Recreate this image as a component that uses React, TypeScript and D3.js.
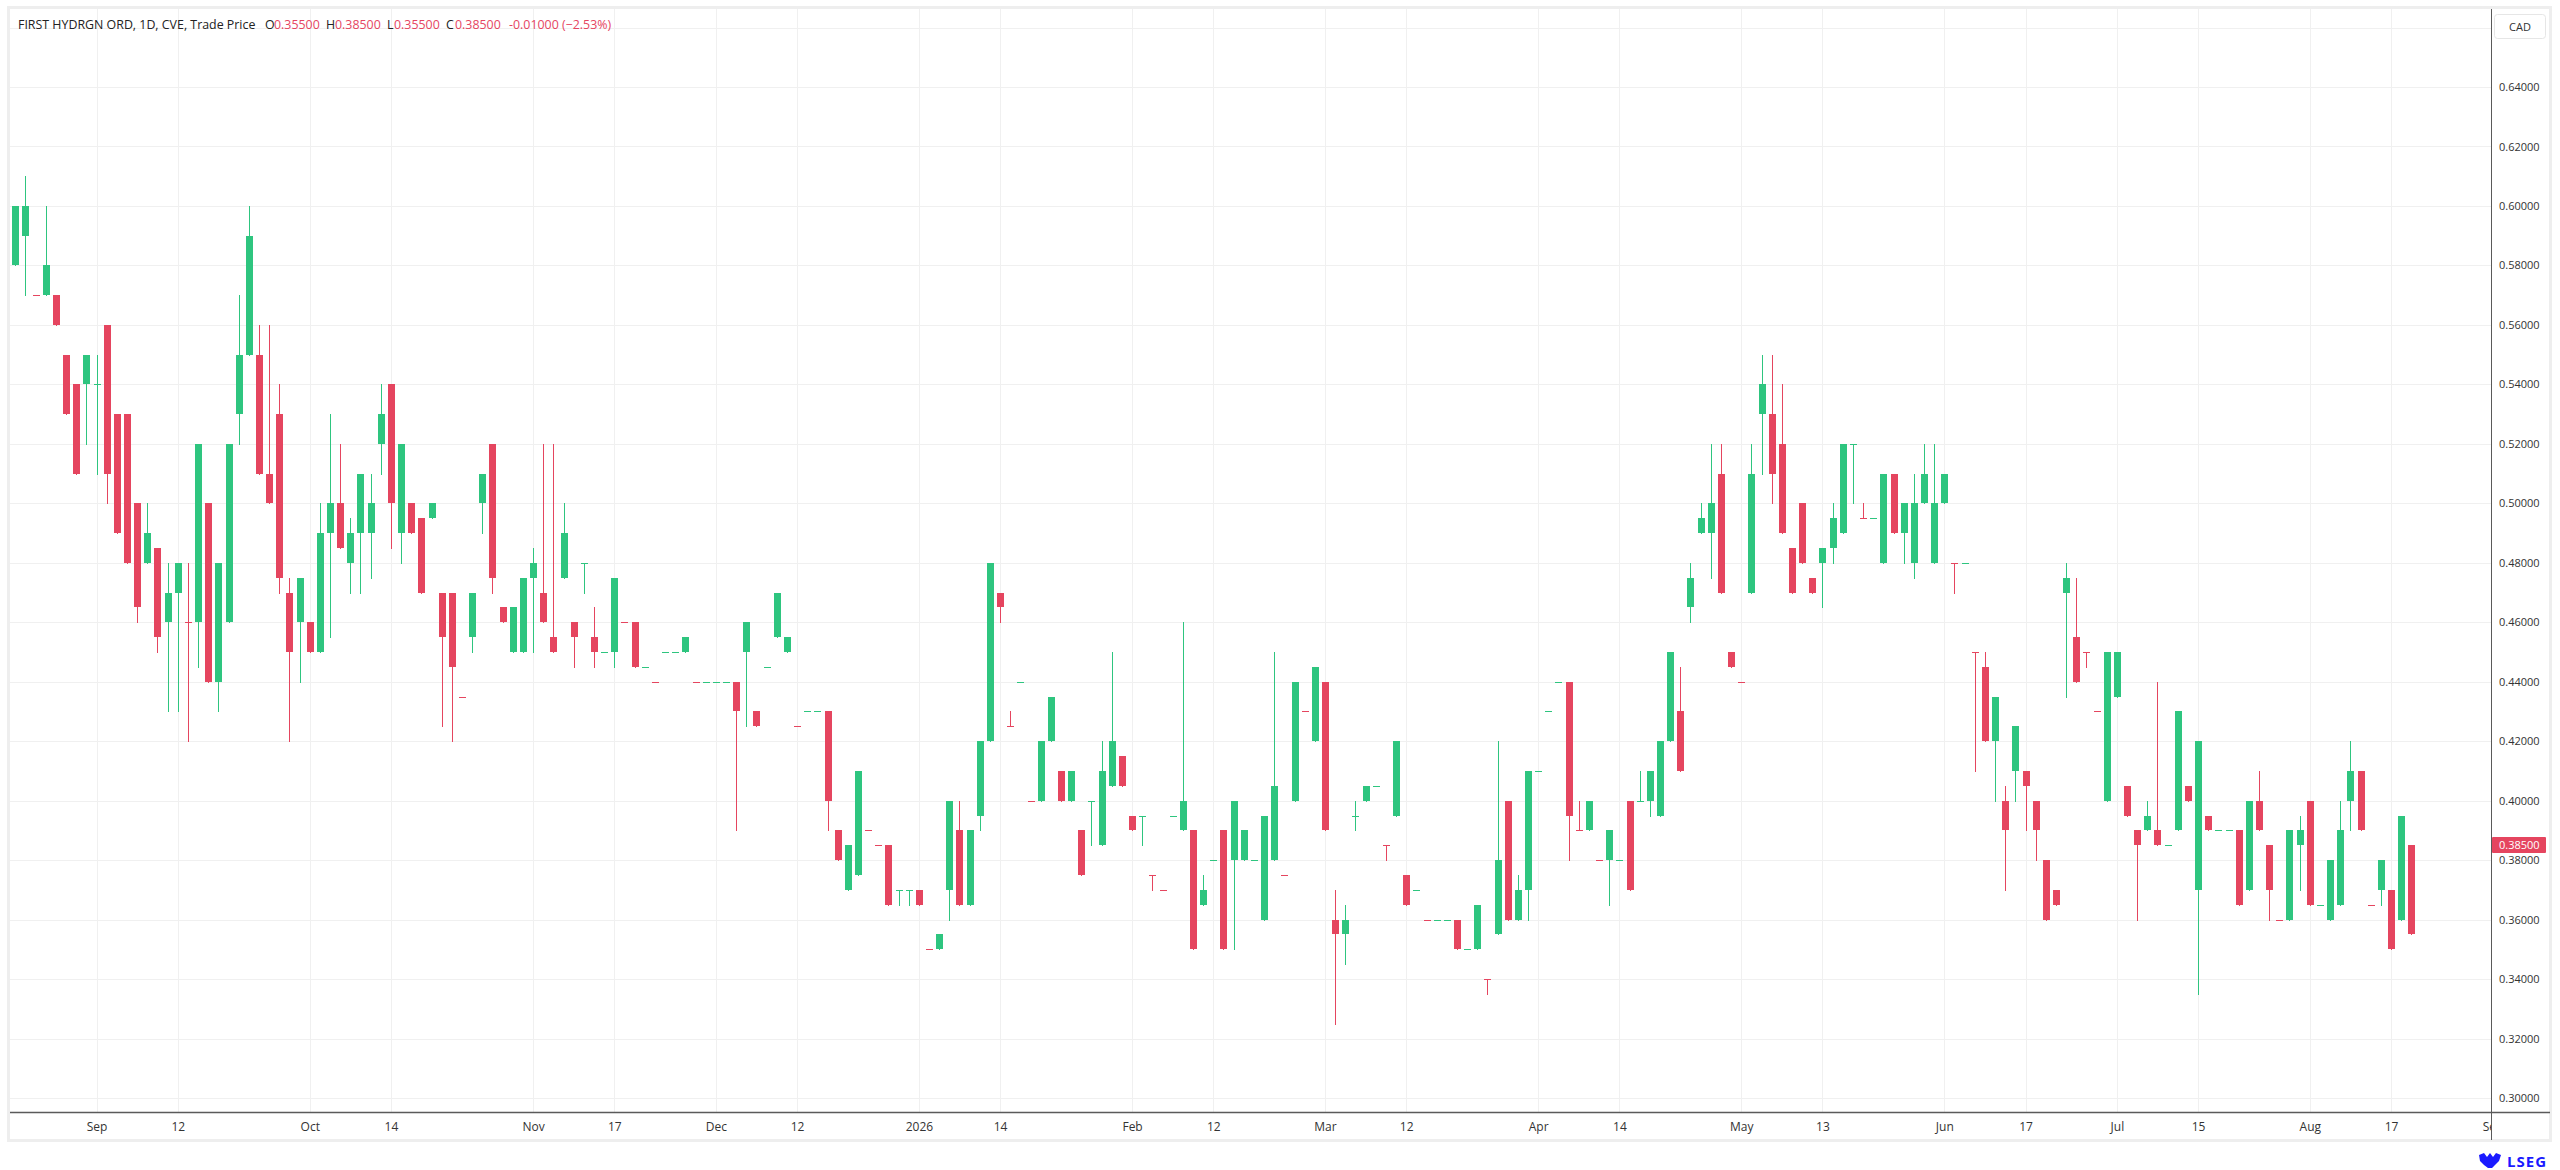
import * as d3 from "d3";
import { useEffect, useRef } from "react";

// daily bars, [open, high, low, close]
const bars: number[][] = [
  [0.58, 0.6, 0.58, 0.6], [0.59, 0.61, 0.57, 0.6], [0.57, 0.57, 0.57, 0.57], [0.57, 0.6, 0.57, 0.58], [0.57, 0.57, 0.56, 0.56],
  [0.55, 0.55, 0.53, 0.53], [0.54, 0.54, 0.51, 0.51], [0.54, 0.55, 0.52, 0.55], [0.54, 0.55, 0.51, 0.54], [0.56, 0.56, 0.5, 0.51],
  [0.53, 0.53, 0.49, 0.49], [0.53, 0.53, 0.48, 0.48], [0.5, 0.5, 0.46, 0.465], [0.48, 0.5, 0.48, 0.49], [0.485, 0.485, 0.45, 0.455],
  [0.46, 0.48, 0.43, 0.47], [0.47, 0.48, 0.43, 0.48], [0.46, 0.48, 0.42, 0.46], [0.46, 0.52, 0.445, 0.52], [0.5, 0.5, 0.44, 0.44],
  [0.44, 0.48, 0.43, 0.48], [0.46, 0.52, 0.46, 0.52], [0.53, 0.57, 0.52, 0.55], [0.55, 0.6, 0.55, 0.59], [0.55, 0.56, 0.51, 0.51],
  [0.51, 0.56, 0.5, 0.5], [0.53, 0.54, 0.47, 0.475], [0.47, 0.475, 0.42, 0.45], [0.46, 0.475, 0.44, 0.475], [0.46, 0.46, 0.45, 0.45],
  [0.45, 0.5, 0.45, 0.49], [0.49, 0.53, 0.455, 0.5], [0.5, 0.52, 0.485, 0.485], [0.48, 0.495, 0.47, 0.49], [0.49, 0.51, 0.47, 0.51],
  [0.49, 0.51, 0.475, 0.5], [0.52, 0.54, 0.51, 0.53], [0.54, 0.54, 0.485, 0.5], [0.49, 0.52, 0.48, 0.52], [0.5, 0.5, 0.49, 0.49],
  [0.495, 0.495, 0.47, 0.47], [0.495, 0.5, 0.495, 0.5], [0.47, 0.47, 0.425, 0.455], [0.47, 0.47, 0.42, 0.445], [0.435, 0.435, 0.435, 0.435],
  [0.455, 0.47, 0.45, 0.47], [0.5, 0.51, 0.49, 0.51], [0.52, 0.52, 0.47, 0.475], [0.465, 0.465, 0.46, 0.46], [0.45, 0.465, 0.45, 0.465],
  [0.45, 0.475, 0.45, 0.475], [0.475, 0.485, 0.45, 0.48], [0.47, 0.52, 0.46, 0.46], [0.455, 0.52, 0.45, 0.45], [0.475, 0.5, 0.475, 0.49],
  [0.46, 0.46, 0.445, 0.455], [0.48, 0.48, 0.47, 0.48], [0.455, 0.465, 0.445, 0.45], [0.45, 0.45, 0.45, 0.45], [0.45, 0.475, 0.445, 0.475],
  [0.46, 0.46, 0.46, 0.46], [0.46, 0.46, 0.445, 0.445], [0.445, 0.445, 0.445, 0.445], [0.44, 0.44, 0.44, 0.44], [0.45, 0.45, 0.45, 0.45],
  [0.45, 0.45, 0.45, 0.45], [0.45, 0.455, 0.45, 0.455], [0.44, 0.44, 0.44, 0.44], [0.44, 0.44, 0.44, 0.44], [0.44, 0.44, 0.44, 0.44],
  [0.44, 0.44, 0.44, 0.44], [0.44, 0.44, 0.39, 0.43], [0.45, 0.46, 0.425, 0.46], [0.43, 0.43, 0.425, 0.425], [0.445, 0.445, 0.445, 0.445],
  [0.455, 0.47, 0.455, 0.47], [0.45, 0.455, 0.45, 0.455], [0.425, 0.425, 0.425, 0.425], [0.43, 0.43, 0.43, 0.43], [0.43, 0.43, 0.43, 0.43],
  [0.43, 0.43, 0.39, 0.4], [0.39, 0.39, 0.38, 0.38], [0.37, 0.385, 0.37, 0.385], [0.375, 0.41, 0.375, 0.41], [0.39, 0.39, 0.39, 0.39],
  [0.385, 0.385, 0.385, 0.385], [0.385, 0.385, 0.365, 0.365], [0.37, 0.37, 0.365, 0.37], [0.37, 0.37, 0.365, 0.37], [0.37, 0.37, 0.365, 0.365],
  [0.35, 0.35, 0.35, 0.35], [0.35, 0.355, 0.35, 0.355], [0.37, 0.4, 0.36, 0.4], [0.39, 0.4, 0.365, 0.365], [0.365, 0.39, 0.365, 0.39],
  [0.395, 0.42, 0.39, 0.42], [0.42, 0.48, 0.42, 0.48], [0.47, 0.47, 0.46, 0.465], [0.425, 0.43, 0.425, 0.425], [0.44, 0.44, 0.44, 0.44],
  [0.4, 0.4, 0.4, 0.4], [0.4, 0.42, 0.4, 0.42], [0.42, 0.435, 0.42, 0.435], [0.41, 0.41, 0.4, 0.4], [0.4, 0.41, 0.4, 0.41],
  [0.39, 0.39, 0.375, 0.375], [0.4, 0.4, 0.385, 0.4], [0.385, 0.42, 0.385, 0.41], [0.405, 0.45, 0.405, 0.42], [0.415, 0.415, 0.405, 0.405],
  [0.395, 0.395, 0.39, 0.39], [0.395, 0.395, 0.385, 0.395], [0.375, 0.375, 0.37, 0.375], [0.37, 0.37, 0.37, 0.37], [0.395, 0.395, 0.395, 0.395],
  [0.39, 0.46, 0.39, 0.4], [0.39, 0.39, 0.35, 0.35], [0.365, 0.375, 0.365, 0.37], [0.38, 0.38, 0.38, 0.38], [0.39, 0.39, 0.35, 0.35],
  [0.38, 0.4, 0.35, 0.4], [0.38, 0.39, 0.38, 0.39], [0.38, 0.38, 0.38, 0.38], [0.36, 0.395, 0.36, 0.395], [0.38, 0.45, 0.38, 0.405],
  [0.375, 0.375, 0.375, 0.375], [0.4, 0.44, 0.4, 0.44], [0.43, 0.43, 0.43, 0.43], [0.42, 0.445, 0.42, 0.445], [0.44, 0.44, 0.39, 0.39],
  [0.36, 0.37, 0.325, 0.355], [0.355, 0.365, 0.345, 0.36], [0.395, 0.4, 0.39, 0.395], [0.4, 0.405, 0.4, 0.405], [0.405, 0.405, 0.405, 0.405],
  [0.385, 0.385, 0.38, 0.385], [0.395, 0.42, 0.395, 0.42], [0.375, 0.375, 0.365, 0.365], [0.37, 0.37, 0.37, 0.37], [0.36, 0.36, 0.36, 0.36],
  [0.36, 0.36, 0.36, 0.36], [0.36, 0.36, 0.36, 0.36], [0.36, 0.36, 0.35, 0.35], [0.35, 0.35, 0.35, 0.35], [0.35, 0.365, 0.35, 0.365],
  [0.34, 0.34, 0.335, 0.34], [0.355, 0.42, 0.355, 0.38], [0.4, 0.4, 0.36, 0.36], [0.36, 0.375, 0.36, 0.37], [0.37, 0.41, 0.36, 0.41],
  [0.41, 0.41, 0.41, 0.41], [0.43, 0.43, 0.43, 0.43], [0.44, 0.44, 0.44, 0.44], [0.44, 0.44, 0.38, 0.395], [0.39, 0.4, 0.39, 0.39],
  [0.39, 0.4, 0.39, 0.4], [0.38, 0.38, 0.38, 0.38], [0.38, 0.39, 0.365, 0.39], [0.38, 0.38, 0.38, 0.38], [0.4, 0.4, 0.37, 0.37],
  [0.4, 0.41, 0.4, 0.4], [0.4, 0.41, 0.395, 0.41], [0.395, 0.42, 0.395, 0.42], [0.42, 0.45, 0.42, 0.45], [0.43, 0.445, 0.41, 0.41],
  [0.465, 0.48, 0.46, 0.475], [0.49, 0.5, 0.49, 0.495], [0.49, 0.52, 0.475, 0.5], [0.51, 0.52, 0.47, 0.47], [0.45, 0.45, 0.445, 0.445],
  [0.44, 0.44, 0.44, 0.44], [0.47, 0.52, 0.47, 0.51], [0.53, 0.55, 0.51, 0.54], [0.53, 0.55, 0.5, 0.51], [0.52, 0.54, 0.49, 0.49],
  [0.485, 0.485, 0.47, 0.47], [0.5, 0.5, 0.48, 0.48], [0.475, 0.475, 0.47, 0.47], [0.48, 0.485, 0.465, 0.485], [0.485, 0.5, 0.48, 0.495],
  [0.49, 0.52, 0.49, 0.52], [0.52, 0.52, 0.5, 0.52], [0.495, 0.5, 0.495, 0.495], [0.495, 0.495, 0.495, 0.495], [0.48, 0.51, 0.48, 0.51],
  [0.51, 0.51, 0.49, 0.49], [0.49, 0.5, 0.48, 0.5], [0.48, 0.51, 0.475, 0.5], [0.5, 0.52, 0.5, 0.51], [0.48, 0.52, 0.48, 0.5],
  [0.5, 0.51, 0.5, 0.51], [0.48, 0.48, 0.47, 0.48], [0.48, 0.48, 0.48, 0.48], [0.45, 0.45, 0.41, 0.45], [0.445, 0.45, 0.42, 0.42],
  [0.42, 0.435, 0.4, 0.435], [0.4, 0.405, 0.37, 0.39], [0.41, 0.425, 0.4, 0.425], [0.41, 0.41, 0.39, 0.405], [0.4, 0.4, 0.38, 0.39],
  [0.38, 0.38, 0.36, 0.36], [0.37, 0.37, 0.365, 0.365], [0.47, 0.48, 0.435, 0.475], [0.455, 0.475, 0.44, 0.44], [0.45, 0.45, 0.445, 0.45],
  [0.43, 0.43, 0.43, 0.43], [0.4, 0.45, 0.4, 0.45], [0.435, 0.45, 0.435, 0.45], [0.405, 0.405, 0.395, 0.395], [0.39, 0.39, 0.36, 0.385],
  [0.39, 0.4, 0.39, 0.395], [0.39, 0.44, 0.385, 0.385], [0.385, 0.385, 0.385, 0.385], [0.39, 0.43, 0.39, 0.43], [0.405, 0.405, 0.4, 0.4],
  [0.37, 0.42, 0.335, 0.42], [0.395, 0.395, 0.39, 0.39], [0.39, 0.39, 0.39, 0.39], [0.39, 0.39, 0.39, 0.39], [0.39, 0.39, 0.365, 0.365],
  [0.37, 0.4, 0.37, 0.4], [0.4, 0.41, 0.39, 0.39], [0.385, 0.385, 0.36, 0.37], [0.36, 0.36, 0.36, 0.36], [0.36, 0.39, 0.36, 0.39],
  [0.385, 0.395, 0.37, 0.39], [0.4, 0.4, 0.365, 0.365], [0.365, 0.365, 0.365, 0.365], [0.36, 0.38, 0.36, 0.38], [0.365, 0.4, 0.365, 0.39],
  [0.4, 0.42, 0.39, 0.41], [0.41, 0.41, 0.39, 0.39], [0.365, 0.365, 0.365, 0.365], [0.37, 0.38, 0.365, 0.38], [0.37, 0.37, 0.35, 0.35],
  [0.36, 0.395, 0.36, 0.395], [0.385, 0.385, 0.355, 0.355],
];

// flat bars (open == close) that are drawn in the falling colour
const redFlatBars = [2, 17, 44, 60, 63, 67, 77, 84, 85, 90, 98, 100, 112, 113, 125, 127, 135, 139, 145, 154, 156, 170, 182, 191, 193, 204, 205, 223, 232];

const dateTickIndex = [8, 16, 29, 37, 51, 59, 69, 77, 89, 97, 110, 118, 129, 137, 150, 158, 170, 178, 190, 198, 207, 215, 226, 234, 244];
const dateTickLabels = ["Sep", "12", "Oct", "14", "Nov", "17", "Dec", "12", "2026", "14", "Feb", "12", "Mar", "12", "Apr", "14", "May", "13", "Jun", "17", "Jul", "15", "Aug", "17", "Sep"];

const priceTicks = [0.3, 0.32, 0.34, 0.36, 0.38, 0.4, 0.42, 0.44, 0.46, 0.48, 0.5, 0.52, 0.54, 0.56, 0.58, 0.6, 0.62, 0.64, 0.66];
const lastPrice = 0.385;

const headerParts = [
  { text: "FIRST HYDRGN ORD, 1D, CVE, Trade Price", red: false, x: 18 },
  { text: "O", red: false, x: 265 },
  { text: "0.35500", red: true, x: 274 },
  { text: "H", red: false, x: 326 },
  { text: "0.38500", red: true, x: 335 },
  { text: "L", red: false, x: 387 },
  { text: "0.35500", red: true, x: 394 },
  { text: "C", red: false, x: 446 },
  { text: "0.38500", red: true, x: 455 },
  { text: "-0.01000 (\u22122.53%)", red: true, x: 509 },
];

const UP = "#2ec57f";
const DOWN = "#e5455f";
const GRID = "#f0f0f0";
const TEXT = "#333";
const FONT = "'Open Sans', 'Liberation Sans', sans-serif";

export default function App() {
  const ref = useRef<SVGSVGElement | null>(null);

  useEffect(() => {
    if (!ref.current) return;
    const svg = d3.select(ref.current);
    svg.selectAll("*").remove();

    const W = 2560;
    const H = 1170;
    const left = 10;
    const right = 2491;
    const top = 9;
    const bottom = 1112;

    const x = d3.scaleLinear().domain([0, bars.length - 1]).range([15.3, 2411.3]);
    const y = d3.scaleLinear().domain([0.3, 0.64]).range([1098, 87]);

    svg.attr("width", W).attr("height", H).style("font-family", FONT);

    svg.append("rect").attr("width", W).attr("height", H).attr("fill", "#fff");
    svg
      .append("rect")
      .attr("x", left - 1.5)
      .attr("y", top - 1.5)
      .attr("width", 2552 - left)
      .attr("height", 1142 - top)
      .attr("fill", "#fff")
      .attr("stroke", "#eeeeee")
      .attr("stroke-width", 3);

    svg
      .append("clipPath")
      .attr("id", "plot-clip")
      .append("rect")
      .attr("x", left)
      .attr("y", top)
      .attr("width", right - left)
      .attr("height", 1140 - top);

    // grid
    const grid = svg.append("g");
    grid
      .selectAll("line.h")
      .data(priceTicks)
      .join("line")
      .attr("x1", left)
      .attr("x2", right)
      .attr("y1", (d) => Math.round(y(d)) + 0.5)
      .attr("y2", (d) => Math.round(y(d)) + 0.5)
      .attr("stroke", GRID);
    grid
      .selectAll("line.v")
      .data(dateTickIndex.filter((d) => x(d) < right))
      .join("line")
      .attr("x1", (d) => Math.round(x(d)) + 0.5)
      .attr("x2", (d) => Math.round(x(d)) + 0.5)
      .attr("y1", top)
      .attr("y2", bottom)
      .attr("stroke", GRID);

    // candles
    const redSet = new Set(redFlatBars);
    const isUp = (d: number[], i: number) => d[3] > d[0] || (d[3] === d[0] && !redSet.has(i));
    const candles = svg.append("g").selectAll("g").data(bars).join("g");
    candles
      .append("line")
      .attr("x1", (_, i) => Math.round(x(i)) + 0.5)
      .attr("x2", (_, i) => Math.round(x(i)) + 0.5)
      .attr("y1", (d) => Math.round(y(d[1])))
      .attr("y2", (d) => Math.round(y(d[2])) + 1)
      .attr("stroke", (d, i) => (isUp(d, i) ? UP : DOWN));
    candles
      .append("rect")
      .attr("x", (_, i) => Math.round(x(i)) - 3)
      .attr("width", 7)
      .attr("y", (d) => Math.round(y(Math.max(d[0], d[3]))))
      .attr("height", (d) => Math.max(1, Math.round(y(Math.min(d[0], d[3]))) - Math.round(y(Math.max(d[0], d[3])))))
      .attr("fill", (d, i) => (isUp(d, i) ? UP : DOWN));

    // axes lines
    svg
      .append("line")
      .attr("x1", right + 0.5)
      .attr("x2", right + 0.5)
      .attr("y1", top)
      .attr("y2", 1140)
      .attr("stroke", "#5a5a5a");
    svg
      .append("line")
      .attr("x1", left)
      .attr("x2", 2550)
      .attr("y1", bottom + 0.5)
      .attr("y2", bottom + 0.5)
      .attr("stroke", "#5a5a5a")
      .attr("stroke-width", 1.5);

    // price axis
    const yAxis = svg
      .append("g")
      .attr("transform", `translate(${right},0)`)
      .call(
        d3
          .axisRight(y)
          .tickValues(priceTicks.filter((d) => d < 0.65))
          .tickFormat((d) => d3.format(".5f")(d as number))
          .tickSize(0)
          .tickPadding(8)
      );
    yAxis.select(".domain").remove();
    yAxis.selectAll("text").attr("fill", TEXT).style("font-size", "11px").style("font-family", FONT);

    // date axis
    const xAxis = svg
      .append("g")
      .attr("clip-path", "url(#plot-clip)")
      .append("g")
      .attr("transform", `translate(0,${bottom})`)
      .call(
        d3
          .axisBottom(x)
          .tickValues(dateTickIndex)
          .tickFormat((_, i) => dateTickLabels[i])
          .tickSize(0)
          .tickPadding(10)
      );
    xAxis.select(".domain").remove();
    xAxis.selectAll("text").attr("fill", TEXT).style("font-size", "12px").style("font-family", FONT);

    // currency box
    svg
      .append("rect")
      .attr("x", 2494.5)
      .attr("y", 14.5)
      .attr("width", 51)
      .attr("height", 24)
      .attr("rx", 3)
      .attr("fill", "#fff")
      .attr("stroke", "#e6e6e6");
    svg
      .append("text")
      .attr("x", 2520)
      .attr("y", 30.5)
      .attr("text-anchor", "middle")
      .attr("fill", TEXT)
      .style("font-size", "11px")
      .text("CAD");

    // last price label
    const ly = Math.round(y(lastPrice));
    svg
      .append("rect")
      .attr("x", right + 1)
      .attr("y", ly - 8)
      .attr("width", 54)
      .attr("height", 16)
      .attr("rx", 1)
      .attr("fill", DOWN);
    svg
      .append("text")
      .attr("x", right + 8)
      .attr("y", ly + 4)
      .attr("fill", "#fff")
      .style("font-size", "11px")
      .text(d3.format(".5f")(lastPrice));

    // legend
    svg
      .append("g")
      .selectAll("text")
      .data(headerParts)
      .join("text")
      .attr("x", (d) => d.x)
      .attr("y", 29)
      .attr("fill", (d) => (d.red ? DOWN : "#222"))
      .style("font-size", "12.4px")
      .text((d) => d.text);

    // LSEG mark
    const logo = svg.append("g").attr("transform", "translate(2478,1153)").attr("fill", "#1a1aff");
    logo.append("path").attr("d", "M1 2 L6 0 L9 4 L12 0 L15 4 L18 0 L23 2 L21 8 L17 12 L14 15 L10 15 L6 12 L2 8 Z");
    logo
      .append("text")
      .attr("x", 29)
      .attr("y", 14)
      .style("font-size", "15px")
      .style("font-weight", "bold")
      .style("letter-spacing", "1px")
      .text("LSEG");
  }, []);

  return <svg ref={ref} style={{ position: "absolute", left: 0, top: 0, display: "block" }}></svg>;
}
